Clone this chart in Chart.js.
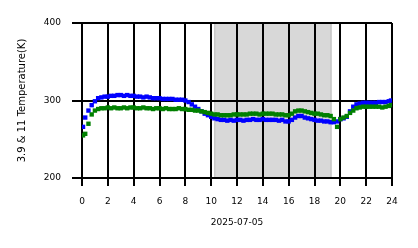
<!DOCTYPE html>
<html>
<head>
<meta charset="utf-8">
<script src="https://cdn.jsdelivr.net/npm/chart.js@4/dist/chart.umd.min.js"></script>
<style>
html,body{margin:0;padding:0;background:#fff;}
#wrap{width:418px;height:248px;position:relative;}
</style>
</head>
<body>
<div id="wrap"><canvas id="c" width="418" height="248"></canvas></div>
<script>
// Sample times (hours of 2025-07-05)
const hours = [0.08,0.25,0.5,0.75,1,1.25,1.5,1.75,2,2.25,2.5,2.75,3,3.25,3.5,3.75,4,4.25,4.5,4.75,
  5,5.25,5.5,5.75,6,6.25,6.5,6.75,7,7.25,7.5,7.75,8,8.25,8.5,8.75,9,9.25,9.5,9.75,
  10,10.25,10.5,10.75,11,11.25,11.5,11.75,12,12.25,12.5,12.75,13,13.25,13.5,13.75,14,14.25,14.5,14.75,
  15,15.25,15.5,15.75,16,16.25,16.5,16.75,17,17.25,17.5,17.75,18,18.25,18.5,18.75,19,19.25,19.5,19.75,
  20,20.25,20.5,20.75,21,21.25,21.5,21.75,22,22.25,22.5,22.75,23,23.25,23.5,23.75,23.92];

// 3.9 um brightness temperature (K) - blue
const temp39 = [266,278,287,294,299,303,304,305,305,306,306,307,307,306,307,306,306,305,305,304,
  305,304,303,303,303,302,302,302,302,301,301,301,300,298,295,292,289,286,283,281,
  279,277,276,275,275,274,275,274,275,275,274,275,275,276,275,275,276,275,275,275,
  275,274,275,273,273,275,278,280,280,278,277,276,275,274,274,273,273,272,272,273,
  276,277,279,286,292,295,296,297,297,297,297,297,298,298,298,299,300];

// 11 um brightness temperature (K) - green
const temp11 = [255,257,270,282,287,289,290,290,291,290,291,290,290,291,290,291,291,290,290,291,
  290,290,289,290,290,289,290,289,289,289,290,289,289,288,288,287,287,286,285,284,
  283,282,282,281,281,281,281,282,282,282,282,282,283,283,283,282,283,283,283,283,
  282,282,282,281,281,283,286,287,287,286,285,284,283,283,282,281,281,280,276,266,
  276,278,280,284,287,290,291,292,292,292,292,292,292,291,292,293,294];

// Shaded interval (hours)
const shadeStart = 10.22;
const shadeEnd = 19.33;

const xTicks = [0,2,4,6,8,10,12,14,16,18,20,22,24];
const dateLabel = '2025-07-05';
const yTitle = '3.9 & 11 Temperature(K)';

const shadePlugin = {
  id: 'shade',
  beforeDraw(chart) {
    const {ctx, chartArea, scales} = chart;
    const x0 = scales.x.getPixelForValue(shadeStart);
    const x1 = scales.x.getPixelForValue(shadeEnd);
    ctx.save();
    ctx.fillStyle = '#d8d8d8';
    ctx.fillRect(x0, chartArea.top, x1 - x0, chartArea.bottom - chartArea.top);
    ctx.fillStyle = '#c8c8c8';
    ctx.fillRect(x0, chartArea.top, 1.5, chartArea.bottom - chartArea.top);
    ctx.fillRect(x1 - 1.5, chartArea.top, 1.5, chartArea.bottom - chartArea.top);
    ctx.restore();
  }
};

const toXY = (arr) => arr.map((v, i) => ({x: hours[i], y: v}));

new Chart(document.getElementById('c'), {
  type: 'scatter',
  data: {
    datasets: [
      {label: '11', data: toXY(temp11), backgroundColor: '#008000', pointStyle: 'rect', pointRadius: 3.1, pointBorderWidth: 0, borderWidth: 0},
      {label: '3.9', data: toXY(temp39), backgroundColor: '#0000ff', pointStyle: 'rect', pointRadius: 3.1, pointBorderWidth: 0, borderWidth: 0}
    ]
  },
  options: {
    responsive: false,
    animation: false,
    events: [],
    layout: {padding: {left: 0, right: 26, top: 23, bottom: 0}},
    plugins: {legend: {display: false}, tooltip: {enabled: false}},
    scales: {
      x: {
        type: 'linear', min: 0, max: 24,
        afterBuildTicks: (s) => { s.ticks = xTicks.map(v => ({value: v})); },
        afterFit: (s) => { s.height = 70; },
        grid: {color: '#000', lineWidth: 2, tickLength: 8, tickColor: '#000'},
        border: {display: true, color: '#000', width: 2},
        ticks: {color: '#000', font: {family: 'DejaVu Sans', size: 9}, padding: 10, autoSkip: false, maxRotation: 0},
        title: {display: true, text: dateLabel, color: '#000', font: {family: 'DejaVu Sans', size: 9}, padding: {top: 0, bottom: 20}}
      },
      y: {
        type: 'linear', min: 200, max: 400,
        afterBuildTicks: (s) => { s.ticks = [200,300,400].map(v => ({value: v})); },
        afterFit: (s) => { s.width = 82; },
        grid: {color: '#000', lineWidth: 2, tickLength: 10, tickColor: '#000'},
        border: {display: true, color: '#000', width: 2},
        ticks: {color: '#000', font: {family: 'DejaVu Sans', size: 9}, padding: 11},
        title: {display: true, text: yTitle, color: '#000', font: {family: 'DejaVu Sans', size: 10}, padding: {top: 16, bottom: 0}}
      }
    }
  },
  plugins: [shadePlugin]
});
</script>
</body>
</html>
